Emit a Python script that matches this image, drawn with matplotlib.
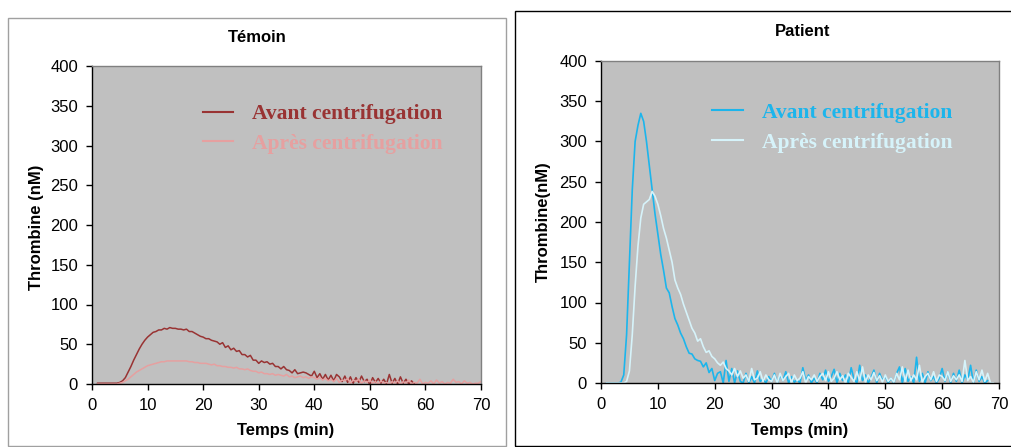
import numpy as np
import matplotlib
import matplotlib.pyplot as plt
from matplotlib.patches import Rectangle

matplotlib.use('Agg')
plt.rcParams['font.family'] = ['Liberation Sans', 'DejaVu Sans']

# Sampling: one value every 0.5 min, starting at 1 min
T_START = 1.0
T_STEP = 0.5

# Témoin (control), thrombin in nM
temoin_avant = [
    1, 1, 1, 1, 1, 1, 1, 1, 2, 4, 8, 15, 22, 30, 37, 44, 50, 55, 59, 62,
    65, 66, 68, 68, 70, 69, 71, 70, 70, 69, 69, 68, 69, 66, 66, 64, 62, 60, 59, 57,
    57, 55, 54, 53, 50, 52, 46, 48, 43, 45, 41, 42, 37, 37, 34, 36, 30, 30, 26, 29,
    27, 28, 25, 26, 22, 22, 19, 22, 18, 17, 14, 18, 13, 14, 15, 14, 12, 10, 16, 8,
    13, 6, 12, 5, 11, 4, 12, 9, 3, 10, 2, 9, 1, 8, 2, 10, 3, 6, -1, 8,
    2, 7, 1, 6, 0, 12, 1, 7, 0, 9, 1, 6, 0, 4, 0,
]
temoin_apres = [
    0, 0, 0, 0, 0, 0, 0, 0, 1, 2, 4, 6, 9, 12, 15, 17, 19, 21, 23, 24,
    25, 26, 27, 28, 28, 29, 29, 29, 29, 29, 29, 29, 29, 28, 28, 27, 27, 26, 26, 26,
    25, 24, 25, 23, 23, 22, 22, 21, 21, 20, 21, 19, 19, 18, 19, 17, 16, 16, 14, 15,
    13, 13, 12, 13, 11, 12, 11, 10, 12, 9, 10, 8, 9, 10, 8, 9, 7, 9, 8, 6,
    8, 5, 7, 4, 6, 3, 7, 2, 5, 4, 7, 1, 5, 3, 6, 1, 4, 2, 5, 1,
    3, 0, 4, 1, 2, 0, 3, 1, 4, 0, 3, 1, 5, 0, 2, 1, 6, 0, 2, 1,
    4, 0, 5, 1, 3, 0, 2, 1, 6, 2, 3, 0, 4, 1, 2, 0, 1, 1, 3,
]

# Patient, thrombin in nM
patient_avant = [
    0, 0, 0, 0, 0, 1, 10, 60, 150, 240, 300, 320, 335, 325, 300, 270, 240, 210, 185, 160,
    140, 118, 112, 95, 80, 72, 62, 55, 45, 37, 36, 30, 28, 27, 20, 25, 13, 18, 3, 12,
    14, 0, 28, 2, 18, 0, 15, 2, 0, 12, 0, 8, 0, 15, 2, 5, 0, 8, 2, 12,
    0, 10, 3, 14, 0, 8, 1, 4, 0, 19, 3, 10, 0, 6, 0, 12, 4, 16, 2, 8,
    17, 0, 12, 3, 10, 0, 19, 5, 0, 22, 3, 10, 0, 7, 16, 0, 12, 3, 9, 0,
    6, 0, 12, 20, 0, 18, 2, 8, 0, 32, 2, 12, 0, 14, 3, 8, 0, 6, 18, 2,
    14, 0, 12, 2, 16, 0, 10, 4, 22, 0, 16, 2, 8, 0, 3,
]
patient_apres = [
    0, 0, 0, 0, 0, 0, 0, 2, 15, 60, 120, 170, 205, 222, 225, 228, 238, 232, 222, 208,
    192, 180, 165, 150, 128, 118, 110, 98, 88, 78, 68, 62, 52, 55, 45, 38, 40, 33, 30, 25,
    22, 26, 18, 15, 10, 18, 8, 15, 6, 10, 2, 18, 4, 6, 14, 2, 10, 4, 2, 10,
    0, 12, 3, 8, 12, 0, 10, 3, 6, 14, 0, 8, 4, 10, 2, 8, 12, 3, 14, 2,
    6, 14, 4, 9, 0, 12, 7, 2, 14, 3, 20, 1, 10, 4, 13, 3, 9, 1, 10, 2,
    6, 1, 12, 4, 20, 2, 16, 3, 10, 4, 22, 1, 8, 12, 4, 14, 2, 10, 8, 3,
    14, 2, 9, 4, 10, 2, 28, 3, 8, 1, 14, 4, 16, 2, 12, 0, 0,
]

Y_TICKS = [0, 50, 100, 150, 200, 250, 300, 350, 400]
X_TICKS = [0, 10, 20, 30, 40, 50, 60, 70]

W, H = 1011, 447


def times(values):
    return T_START + T_STEP * np.arange(len(values))


def fx(px):
    return px / W


def fy(py):
    return 1 - py / H


def setup_axes(ax):
    ax.set_facecolor('#C0C0C0')
    ax.set_xlim(0, 70)
    ax.set_ylim(0, 400)
    ax.set_xticks(X_TICKS)
    ax.set_yticks(Y_TICKS)
    ax.tick_params(direction='out', length=4, width=1, labelsize=12, pad=6, color='black')
    for side in ('left', 'bottom'):
        ax.spines[side].set_color('black')
        ax.spines[side].set_linewidth(1)
    for side in ('top', 'right'):
        ax.spines[side].set_color('#808080')
        ax.spines[side].set_linewidth(1)


def add_legend(ax, anchor):
    leg = ax.legend(loc='upper left', bbox_to_anchor=anchor, frameon=False,
                    prop={'family': 'Liberation Serif', 'weight': 'bold', 'size': 15.5},
                    handlelength=1.4, handletextpad=0.9, labelspacing=0.45,
                    borderaxespad=0, borderpad=0)
    for text, line in zip(leg.get_texts(), leg.get_lines()):
        text.set_color(line.get_color())
        line.set_linewidth(1.5)


fig = plt.figure(figsize=(W / 100, H / 100), dpi=100)

# panel frames
fig.patches.append(Rectangle((fx(8), fy(446)), fx(498), 428 / H, transform=fig.transFigure,
                             fill=False, edgecolor='#A0A0A0', linewidth=1))
fig.patches.append(Rectangle((fx(515), fy(446)), fx(500), 435 / H, transform=fig.transFigure,
                             fill=False, edgecolor='black', linewidth=1))

# Témoin
ax1 = fig.add_axes([fx(92), fy(384), fx(481 - 92), (384 - 66) / H])
setup_axes(ax1)
ax1.plot(times(temoin_avant), temoin_avant, color='#993333', lw=1.1, label='Avant centrifugation')
ax1.plot(times(temoin_apres), temoin_apres, color='#E6A0A0', lw=1.1, label='Après centrifugation')
add_legend(ax1, (0.285, 0.88))
fig.text(fx(257), fy(38), 'Témoin', ha='center', va='center', fontsize=12, fontweight='bold')
fig.text(fx(36), fy(227), 'Thrombine (nM)', ha='center', va='center', rotation=90,
         fontsize=12, fontweight='bold')
fig.text(fx(286), fy(430), 'Temps (min)', ha='center', va='center', fontsize=12, fontweight='bold')

# Patient
ax2 = fig.add_axes([fx(601), fy(383), fx(999 - 601), (383 - 61) / H])
setup_axes(ax2)
ax2.plot(times(patient_avant), patient_avant, color='#1CB5EC', lw=1.2, label='Avant centrifugation')
ax2.plot(times(patient_apres), patient_apres, color='#D6F3FA', lw=1.2, label='Après centrifugation')
add_legend(ax2, (0.28, 0.87))
fig.text(fx(803), fy(32), 'Patient', ha='center', va='center', fontsize=12, fontweight='bold')
fig.text(fx(543), fy(222), 'Thrombine(nM)', ha='center', va='center', rotation=90,
         fontsize=12, fontweight='bold')
fig.text(fx(800), fy(430), 'Temps (min)', ha='center', va='center', fontsize=12, fontweight='bold')

fig.savefig('out.png', dpi=100)
plt.close('all')
